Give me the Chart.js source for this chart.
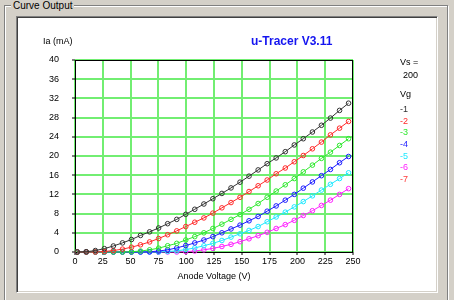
<!DOCTYPE html>
<html>
<head>
<meta charset="utf-8">
<script src="https://cdn.jsdelivr.net/npm/chart.js@4.4.1/dist/chart.umd.min.js"></script>
<style>
  html, body { margin:0; padding:0; background:#d4d0c8; width:454px; height:300px; overflow:hidden; font-family:"Liberation Sans", Arial, sans-serif; }
  #group { position:absolute; left:4px; top:5px; width:444px; height:310px; box-sizing:border-box;
           border:1px solid #808080; box-shadow: 1px 1px 0 #ffffff, inset 1px 1px 0 #ffffff; }
  #glabel { position:absolute; left:11px; top:0px; background:#d4d0c8; padding:0 2px; font-size:10px; line-height:11px; color:#000; }
  #panel { position:absolute; left:16px; top:16px; width:422px; height:277px; box-sizing:border-box; background:#fff;
           border-top:1px solid #808080; border-left:1px solid #808080; border-right:1px solid #ffffff; border-bottom:1px solid #ffffff;
           box-shadow: inset 1px 1px 0 #404040, inset -1px -1px 0 #d4d0c8; }
  #c { position:absolute; left:0; top:0; }
</style>
</head>
<body>
<div id="group"></div>
<div id="glabel">Curve Output</div>
<div id="panel"></div>
<canvas id="c" width="454" height="300"></canvas>
<script>
// ---- data ----
const anodeVoltage = [2, 10.1, 18.3, 26.4, 34.5, 42.7, 50.8, 58.9, 67.1, 75.2, 83.3, 91.5, 99.6, 107.7, 115.9, 124, 132.1, 140.3, 148.4, 156.5, 164.7, 172.8, 180.9, 189.1, 197.2, 205.3, 213.5, 221.6, 229.7, 237.9, 246];
const iaVg1 = [0, 0.05, 0.3, 0.7, 1.25, 1.9, 2.6, 3.45, 4.2, 5.0, 5.9, 6.8, 7.85, 8.9, 10.0, 11.1, 12.2, 13.35, 14.55, 15.8, 17.1, 18.4, 19.6, 20.9, 22.3, 23.6, 25.0, 26.4, 27.9, 29.5, 31.0];
const iaVg2 = [0, 0, 0, 0.1, 0.3, 0.6, 1.0, 1.5, 2.1, 2.8, 3.6, 4.4, 5.3, 6.2, 7.1, 8.1, 9.2, 10.3, 11.4, 12.6, 13.8, 15.0, 16.3, 17.5, 18.8, 20.1, 21.5, 22.9, 24.4, 25.8, 27.2];
const iaVg3 = [0, 0, 0, 0, 0, 0, 0.05, 0.2, 0.45, 0.8, 1.3, 1.8, 2.5, 3.2, 4.0, 4.9, 5.8, 6.8, 7.8, 8.9, 10.1, 11.4, 12.7, 14.0, 15.3, 16.7, 18.1, 19.5, 20.8, 22.2, 23.6];
const iaVg4 = [0, 0, 0, 0, 0, 0, 0, 0, 0.05, 0.2, 0.45, 0.85, 1.35, 1.9, 2.5, 3.2, 4.0, 4.8, 5.6, 6.5, 7.4, 8.5, 9.6, 10.8, 12.0, 13.3, 14.6, 15.9, 17.2, 18.6, 19.9];
const iaVg5 = [0, 0, 0, 0, 0, 0, 0, 0, 0, 0, 0.1, 0.25, 0.5, 0.85, 1.3, 1.8, 2.4, 3.1, 3.8, 4.5, 5.3, 6.3, 7.3, 8.3, 9.4, 10.5, 11.7, 12.9, 14.1, 15.3, 16.5];
const iaVg6 = [0, 0, 0, 0, 0, 0, 0, 0, 0, 0, 0, 0, 0.08, 0.2, 0.45, 0.75, 1.15, 1.6, 2.15, 2.75, 3.4, 4.1, 4.9, 5.7, 6.6, 7.6, 8.6, 9.7, 10.8, 12.0, 13.2];
const xTicks = [0, 25, 50, 75, 100, 125, 150, 175, 200, 225, 250];
const yTicks = [0, 4, 8, 12, 16, 20, 24, 28, 32, 36, 40];
const vgLabels = ['-1', '-2', '-3', '-4', '-5', '-6', '-7'];
const vgColors = ['#333333', '#ff2a2a', '#2ee82e', '#1c1cff', '#1ee8ff', '#ff1eff', '#ff3c3c'];
const chartTitle = 'u-Tracer V3.11';
const yTitle = 'Ia (mA)';
const xTitle = 'Anode Voltage (V)';
const vsLabel = 'Vs =';
const vsValue = '200';
const vgTitle = 'Vg';

const series = [iaVg1, iaVg2, iaVg3, iaVg4, iaVg5, iaVg6];
const FONT = '"Liberation Sans", Arial, sans-serif';
const GRID = '#72ee72';

const datasets = series.map((s, k) => ({
  label: 'Vg ' + vgLabels[k],
  data: anodeVoltage.map((v, i) => ({ x: v, y: s[i] })),
  borderColor: vgColors[k],
  backgroundColor: 'rgba(0,0,0,0)',
  borderWidth: 1,
  pointRadius: 2.3,
  pointBorderWidth: 1,
  pointBorderColor: vgColors[k],
  pointBackgroundColor: 'rgba(0,0,0,0)',
  pointStyle: 'circle',
  tension: 0,
  clip: false
}));

const frame = {
  id: 'frame',
  beforeDatasetsDraw(chart) {
    const { ctx, chartArea: a } = chart;
    ctx.save();
    ctx.strokeStyle = '#000';
    ctx.lineWidth = 1;
    ctx.strokeRect(a.left + 0.5, a.top + 0.5, a.right - a.left - 1, a.bottom - a.top);
    ctx.restore();
  },
  afterDraw(chart) {
    const { ctx } = chart;
    ctx.save();
    ctx.textBaseline = 'middle';
    ctx.textAlign = 'left';
    ctx.fillStyle = '#1414f0';
    ctx.font = 'bold 12px ' + FONT;
    ctx.fillText(chartTitle, 251, 42);
    ctx.fillStyle = '#000';
    ctx.font = '9px ' + FONT;
    ctx.fillText(yTitle, 43, 42);
    ctx.fillText(vsLabel, 400, 63);
    ctx.fillText(vsValue, 403, 76);
    ctx.fillText(vgTitle, 400, 95);
    vgLabels.forEach((t, i) => {
      ctx.fillStyle = vgColors[i];
      ctx.fillText(t, 400, 109.7 + i * 11.6);
    });
    ctx.restore();
  }
};

new Chart(document.getElementById('c'), {
  type: 'line',
  data: { datasets },
  plugins: [frame],
  options: {
    responsive: false,
    animation: false,
    devicePixelRatio: 1,
    layout: { padding: { left: 0, top: 60, right: 101, bottom: 18 } },
    plugins: { legend: { display: false }, title: { display: false }, tooltip: { enabled: false } },
    scales: {
      x: {
        type: 'linear',
        min: xTicks[0], max: xTicks[xTicks.length - 1],
        afterBuildTicks: s => { s.ticks = xTicks.map(v => ({ value: v })); },
        afterFit: s => { s.height = 30; },
        ticks: { color: '#000', font: { family: FONT, size: 9 }, padding: 1, maxRotation: 0, autoSkip: false },
        grid: { color: GRID, lineWidth: 2, tickLength: 3, tickColor: '#000', tickWidth: 1 },
        border: { display: false },
        title: { display: true, text: xTitle, color: '#000', font: { family: FONT, size: 9 }, padding: { top: 0, bottom: 0 } }
      },
      y: {
        type: 'linear',
        min: yTicks[0], max: yTicks[yTicks.length - 1],
        afterBuildTicks: s => { s.ticks = yTicks.map(v => ({ value: v })); },
        afterFit: s => { s.width = 75; },
        ticks: { color: '#000', font: { family: FONT, size: 9 }, padding: 13 },
        grid: { color: GRID, lineWidth: 2, tickLength: 3, tickColor: '#000', tickWidth: 1 },
        border: { display: false }
      }
    }
  }
});
</script>
</body>
</html>
